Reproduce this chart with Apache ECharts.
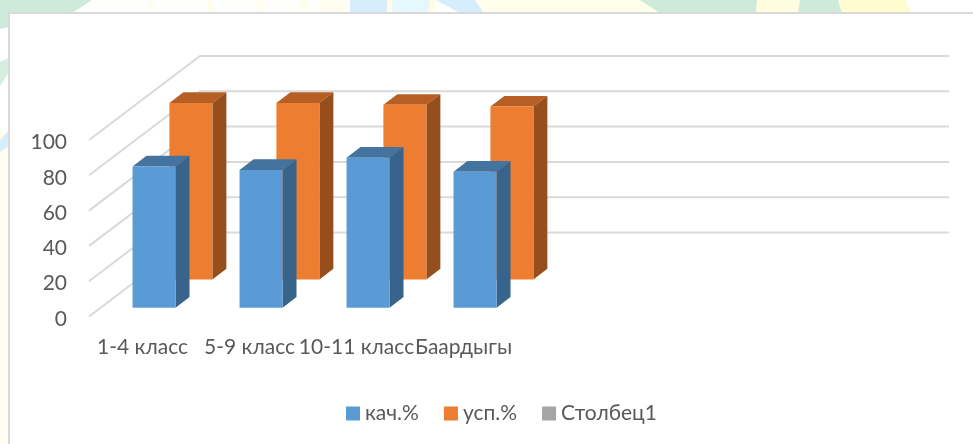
<!DOCTYPE html>
<html><head><meta charset="utf-8">
<style>html,body{margin:0;padding:0;background:#fff}#c{width:973px;height:444px}</style>
<script src="https://cdn.jsdelivr.net/npm/echarts@6/dist/echarts.min.js"></script>
</head><body><div id="c"></div>
<script>
const categories = ['1-4 класс', '5-9 класс', '10-11 класс', 'Баардыгы', '', '', ''];
const kach = [80, 78, 85, 77];
const usp = [100, 100, 99, 98];
const stolbec1 = [];
const ticks = [0, 20, 40, 60, 80, 100];

const FONT = 'Lato, "Open Sans", sans-serif';
const TXT = '#595959', GRID = '#d9d9d9';
const WALL_DX = 110, WALL_DY = 84, BAR_W = 43, BAR_DEPTH = 0.127;

function barRender(frac, front, top, side) {
  return function (params, api) {
    const c = api.coord([api.value(0), api.value(1)]);
    const b = api.coord([api.value(0), 0]);
    const cx = c[0] + WALL_DX * frac, sh = WALL_DY * frac;
    const l = cx - BAR_W / 2, r = cx + BAR_W / 2, t = c[1] - sh, bt = b[1] - sh;
    const dx = WALL_DX * BAR_DEPTH, dy = WALL_DY * BAR_DEPTH;
    return { type: 'group', children: [
      { type: 'polygon', shape: { points: [[l, t], [r, t], [r + dx, t - dy], [l + dx, t - dy]] }, style: { fill: top } },
      { type: 'polygon', shape: { points: [[r, t], [r + dx, t - dy], [r + dx, bt - dy], [r, bt]] }, style: { fill: side } },
      { type: 'rect', shape: { x: l, y: t, width: BAR_W, height: bt - t }, style: { fill: front } }
    ] };
  };
}
function deco(points, fill) { return { type: 'polygon', silent: true, z: 0, shape: { points }, style: { fill } }; }

const chart = echarts.init(document.getElementById('c'), null, { renderer: 'canvas' });
chart.setOption({
  animation: false,
  backgroundColor: '#fff',
  textStyle: { fontFamily: FONT },
  graphic: { elements: [
    deco([[0,0],[973,0],[973,13],[0,13]], '#fefefc'),
    deco([[0,130],[9,130],[9,444],[0,444]], '#fffef0'),
    deco([[0,0],[92,0],[72,13],[9,13],[9,27],[0,29]], '#cdeadb'),
    deco([[0,62],[9,58],[9,72],[0,86]], '#d5eee2'),
    deco([[0,140],[9,130],[9,146],[0,152]], '#d6edfa'),
    deco([[146,0],[152,0],[158,13],[152,13]], '#fffdeb'),
    deco([[205,0],[212,0],[216,13],[210,13]], '#fffdeb'),
    deco([[255,0],[262,0],[266,13],[260,13]], '#fffdeb'),
    deco([[300,0],[308,0],[306,13],[302,13]], '#fffdeb'),
    deco([[320,0],[346,0],[346,13],[320,13]], '#fffeee'),
    deco([[350,0],[387,0],[387,13],[350,13]], '#d5edfc'),
    deco([[387,0],[392,0],[392,13],[387,13]], '#fffce0'),
    deco([[392,0],[430,0],[430,13],[392,13]], '#e4f8fd'),
    deco([[430,0],[435,0],[433,13],[428,13]], '#fffce0'),
    deco([[436,0],[475,0],[484,13],[460,13]], '#d5edfc'),
    deco([[475,0],[645,0],[660,13],[484,13]], '#fffeea'),
    deco([[640,0],[757,0],[758,6],[756,13],[660,13]], '#cdeadb'),
    deco([[757,0],[800,0],[798,13],[756,13]], '#fffde0'),
    deco([[800,0],[838,0],[842,13],[798,13]], '#cdeadb'),
    deco([[838,0],[905,0],[912,13],[842,13]], '#fffcd0'),
    deco([[905,0],[973,0],[973,13],[912,13]], '#ffffff'),
    { type: 'rect', silent: true, z: 1, shape: { x: 9, y: 13, width: 970, height: 440 }, style: { fill: '#fff', stroke: '#d9d9d9', lineWidth: 2 } }
  ] },
  grid: { left: 89, top: 140, width: 749, height: 176.5, containLabel: false },
  legend: {
    left: 341, top: 398, itemWidth: 14, itemHeight: 14, itemGap: 25,
    icon: 'rect', z: 5,
    data: ['кач.%', 'усп.%', 'Столбец1'],
    textStyle: { fontFamily: FONT, fontSize: 21, color: TXT }
  },
  xAxis: {
    type: 'category', data: categories, z: 5,
    axisLine: { show: false }, axisTick: { show: false }, splitLine: { show: false },
    axisLabel: { interval: 0, hideOverlap: false, margin: 20, fontFamily: FONT, fontSize: 21, color: TXT }
  },
  yAxis: {
    type: 'value', min: 0, max: 100, interval: 20, z: 5,
    axisLine: { show: false }, axisTick: { show: false }, splitLine: { show: false },
    axisLabel: { margin: 22, formatter: '{n|{value}}', rich: { n: { padding: [5, 0, 0, 0], fontFamily: FONT, fontSize: 21, color: TXT } } }
  },
  series: [
    { type: 'custom', name: 'walls', silent: true, clip: false, coordinateSystem: 'cartesian2d',
      data: ticks.map(v => [0, v]), encode: { x: 0, y: 1 },
      renderItem(params, api) {
        const cs = params.coordSys;
        const y = api.coord([0, api.value(1)])[1];
        return { type: 'polyline',
          shape: { points: [[cs.x, y], [cs.x + WALL_DX + 1, y - WALL_DY], [cs.x + cs.width + WALL_DX + 1, y - WALL_DY]] },
          style: { stroke: GRID, lineWidth: 2, fill: null } };
      } },
    { type: 'custom', name: 'усп.%', clip: false, itemStyle: { color: '#ED7D31' }, encode: { x: 0, y: 1 },
      data: usp.map((v, i) => [i, v]), renderItem: barRender(0.44, '#ED7D31', '#B65E24', '#964F1C') },
    { type: 'custom', name: 'кач.%', clip: false, itemStyle: { color: '#5B9BD5' }, encode: { x: 0, y: 1 },
      data: kach.map((v, i) => [i, v]), renderItem: barRender(0.105, '#5B9BD5', '#44739F', '#38648B') },
    { type: 'custom', name: 'Столбец1', clip: false, itemStyle: { color: '#A5A5A5' }, encode: { x: 0, y: 1 },
      data: stolbec1, renderItem: barRender(0.75, '#A5A5A5', '#7C7C7C', '#636363') }
  ]
});
</script></body></html>
